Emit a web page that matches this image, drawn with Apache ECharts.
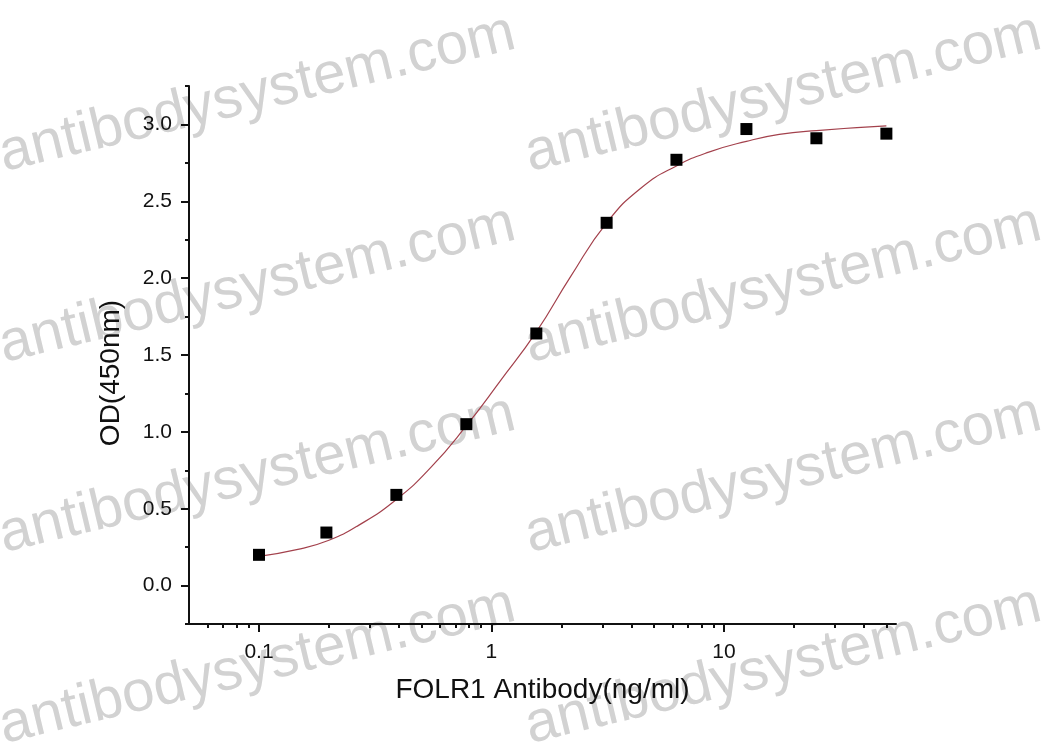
<!DOCTYPE html>
<html>
<head>
<meta charset="UTF-8">
<title>FOLR1 Antibody ELISA</title>
<script src="https://cdn.jsdelivr.net/npm/echarts@6/dist/echarts.min.js"></script>
<style>
  html, body { margin: 0; padding: 0; background: #fff; }
  #chart { width: 1045px; height: 748px; }
</style>
</head>
<body>
<div id="chart"></div>
<script>
// measured points
var concentration = [0.1, 0.195, 0.39, 0.78, 1.56, 3.13, 6.25, 12.5, 25, 50];
var odMeasured = [0.20, 0.345, 0.59, 1.05, 1.64, 2.36, 2.77, 2.97, 2.91, 2.94];

// fitted curve
var fitConc = [0.1, 0.147, 0.2, 0.267, 0.39, 0.55, 0.78, 1.09, 1.56, 2.19, 3.13, 4.43, 6.25, 8.61, 12.5, 17.3, 25, 50];
var fitOd = [0.19, 0.235, 0.295, 0.39, 0.56, 0.77, 1.04, 1.33, 1.65, 2.01, 2.36, 2.59, 2.73, 2.82, 2.89, 2.935, 2.96, 2.99];

var xRange = [0.05, 55];
var xMajorTicks = [0.1, 1, 10];
var xMinorTicks = [0.06, 0.07, 0.08, 0.09, 0.2, 0.3, 0.4, 0.5, 0.6, 0.7, 0.8, 0.9,
                   2, 3, 4, 5, 6, 7, 8, 9, 20, 30, 40, 50];
var yRange = [-0.25, 3.25];
var yMajorTicks = [0, 0.5, 1, 1.5, 2, 2.5, 3];
var yMinorTicks = [-0.25, 0.25, 0.75, 1.25, 1.75, 2.25, 2.75, 3.25];

var lg = function (v) { return Math.log10(v); };
var font = 'Liberation Sans, Arial, sans-serif';
var ink = '#111';

function pairs(xs, ys) {
  return xs.map(function (x, i) { return [lg(x), ys[i]]; });
}

// watermark rows
var marks = [];
[172, 363, 553, 744].forEach(function (y) {
  [7, 533].forEach(function (x) {
    marks.push({
      type: 'text', x: x, y: y + 12, rotation: 13.5 * Math.PI / 180, z: -10,
      style: {
        text: 'antibodysystem.com', font: '58px ' + font, fill: '#d2d2d2',
        textAlign: 'left', textVerticalAlign: 'bottom', verticalAlign: 'bottom'
      }
    });
  });
});

var chart = echarts.init(document.getElementById('chart'), null, { renderer: 'canvas' });

chart.setOption({
  backgroundColor: '#fff',
  animation: false,
  graphic: marks,
  grid: { left: 189, right: 149, top: 86, bottom: 124 },
  xAxis: [{
    type: 'value', min: lg(xRange[0]), max: lg(xRange[1]), position: 'bottom',
    name: 'FOLR1 Antibody(ng/ml)', nameLocation: 'middle', nameGap: 52,
    nameTextStyle: { fontFamily: font, fontSize: 28, color: ink },
    axisLine: { onZero: false, lineStyle: { color: ink, width: 2 } },
    axisTick: { customValues: xMajorTicks.map(lg), length: 8, lineStyle: { color: ink, width: 2 } },
    axisLabel: {
      customValues: xMajorTicks.map(lg), margin: 18, fontFamily: font, fontSize: 21, color: ink,
      formatter: function (v) { return String(+Math.pow(10, v).toPrecision(3)); }
    },
    splitLine: { show: false }
  }, {
    type: 'value', min: lg(xRange[0]), max: lg(xRange[1]), position: 'bottom',
    axisLine: { show: false, onZero: false },
    axisTick: { customValues: xMinorTicks.map(lg), length: 4, lineStyle: { color: ink, width: 2 } },
    axisLabel: { show: false },
    splitLine: { show: false }
  }],
  yAxis: [{
    type: 'value', min: yRange[0], max: yRange[1], position: 'left',
    name: 'OD(450nm)', nameLocation: 'middle', nameGap: 64, nameRotate: 90,
    nameTextStyle: { fontFamily: font, fontSize: 28, color: ink, padding: [0, 36, 0, 0] },
    axisLine: { show: true, onZero: false, lineStyle: { color: ink, width: 2 } },
    axisTick: { customValues: yMajorTicks, length: 8, lineStyle: { color: ink, width: 2 } },
    axisLabel: {
      customValues: yMajorTicks, margin: 17, fontFamily: font, fontSize: 21, color: ink,
      formatter: function (v) { return v.toFixed(1); }
    },
    splitLine: { show: false }
  }, {
    type: 'value', min: yRange[0], max: yRange[1], position: 'left',
    axisLine: { show: false, onZero: false },
    axisTick: { customValues: yMinorTicks, length: 4, lineStyle: { color: ink, width: 2 } },
    axisLabel: { show: false },
    splitLine: { show: false }
  }],
  series: [{
    type: 'line', name: 'fit', xAxisIndex: 0, yAxisIndex: 0,
    data: pairs(fitConc, fitOd), smooth: 0.5, showSymbol: false,
    lineStyle: { color: '#a3414c', width: 1.2 }, z: 2
  }, {
    type: 'scatter', name: 'OD', xAxisIndex: 0, yAxisIndex: 0,
    data: pairs(concentration, odMeasured), symbol: 'rect', symbolSize: 12,
    itemStyle: { color: '#000', opacity: 1 }, z: 3
  }]
});
</script>
</body>
</html>
